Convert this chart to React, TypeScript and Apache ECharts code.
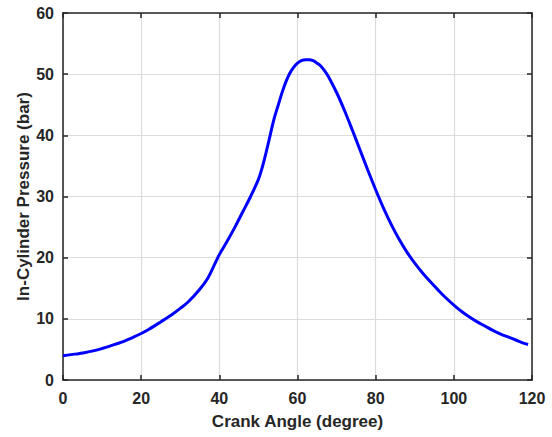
import React, { useEffect, useRef } from "react";
import * as echarts from "echarts";

const crankAngle = [0, 2, 4, 5, 8, 10, 12, 15, 18, 20, 22, 25, 28, 30, 32, 35, 37, 39, 40, 42, 44, 46, 48, 50, 51, 52, 53, 54, 55, 56, 57, 58, 59, 60, 61, 62, 63, 64, 65, 66, 67, 68, 70, 72, 74, 76, 78, 80, 82, 84, 86, 88, 90, 92, 94, 96, 98, 100, 102, 104, 106, 108, 110, 112, 114, 116, 118, 119];
const pressure = [3.95, 4.15, 4.3, 4.4, 4.8, 5.15, 5.55, 6.2, 7.0, 7.6, 8.3, 9.5, 10.75, 11.7, 12.75, 14.85, 16.6, 19.2, 20.5, 22.7, 25.0, 27.5, 30.0, 32.8, 34.8, 37.3, 40.0, 42.7, 44.8, 46.9, 48.7, 50.1, 51.1, 51.8, 52.2, 52.35, 52.35, 52.2, 51.8, 51.3, 50.5, 49.5, 47.0, 44.1, 40.9, 37.6, 34.3, 31.1, 28.1, 25.4, 23.0, 20.9, 19.1, 17.5, 16.05, 14.7, 13.4, 12.25, 11.2, 10.3, 9.5, 8.8, 8.1, 7.5, 7.0, 6.5, 6.0, 5.8];

const xTitle = "Crank Angle (degree)";
const yTitle = "In-Cylinder Pressure (bar)";

const textColor = "#262626";
const font = "Arial, 'Liberation Sans', Helvetica, sans-serif";

export default function App() {
  const ref = useRef<HTMLDivElement>(null);
  useEffect(() => {
    if (!ref.current) return;
    const chart = echarts.init(ref.current, null, { renderer: "svg" });
    const axisLine = { show: true, onZero: false, lineStyle: { color: textColor, width: 1.5 } };
    const tick = { show: true, inside: true, length: 5, lineStyle: { color: textColor, width: 1.5 } };
    chart.setOption({
      animation: false,
      backgroundColor: "#ffffff",
      grid: { left: 63, right: 20, top: 13, bottom: 57, containLabel: false },
      xAxis: [
        {
          type: "value",
          min: 0,
          max: 120,
          interval: 20,
          position: "bottom",
          name: xTitle,
          nameLocation: "middle",
          nameGap: 33,
          nameMoveOverlap: false,
          nameTextStyle: { color: textColor, fontSize: 17, fontWeight: "bold", fontFamily: font },
          axisLine,
          axisTick: tick,
          axisLabel: { color: textColor, fontSize: 16, fontWeight: "bold", fontFamily: font, margin: 10 },
          splitLine: { show: true, lineStyle: { color: "#dcdcdc", width: 1.2 } },
        },
        {
          type: "value",
          min: 0,
          max: 120,
          interval: 20,
          position: "top",
          axisLine,
          axisTick: tick,
          axisLabel: { show: false },
          splitLine: { show: false },
        },
      ],
      yAxis: [
        {
          type: "value",
          min: 0,
          max: 60,
          interval: 10,
          position: "left",
          name: yTitle,
          nameLocation: "middle",
          nameGap: 31,
          nameMoveOverlap: false,
          nameTextStyle: { color: textColor, fontSize: 17, fontWeight: "bold", fontFamily: font },
          axisLine,
          axisTick: tick,
          axisLabel: { color: textColor, fontSize: 16, fontWeight: "bold", fontFamily: font, margin: 9 },
          splitLine: { show: true, lineStyle: { color: "#dcdcdc", width: 1.2 } },
        },
        {
          type: "value",
          min: 0,
          max: 60,
          interval: 10,
          position: "right",
          axisLine,
          axisTick: tick,
          axisLabel: { show: false },
          splitLine: { show: false },
        },
      ],
      series: [
        {
          type: "line",
          data: crankAngle.map((a, i) => [a, pressure[i]]),
          smooth: 0.35,
          showSymbol: false,
          lineStyle: { color: "#0000ff", width: 3 },
          xAxisIndex: 0,
          yAxisIndex: 0,
        },
      ],
    });
    return () => chart.dispose();
  }, []);
  return <div ref={ref} style={{ width: 552, height: 437, position: "absolute", left: 0, top: 0 }} />;
}
